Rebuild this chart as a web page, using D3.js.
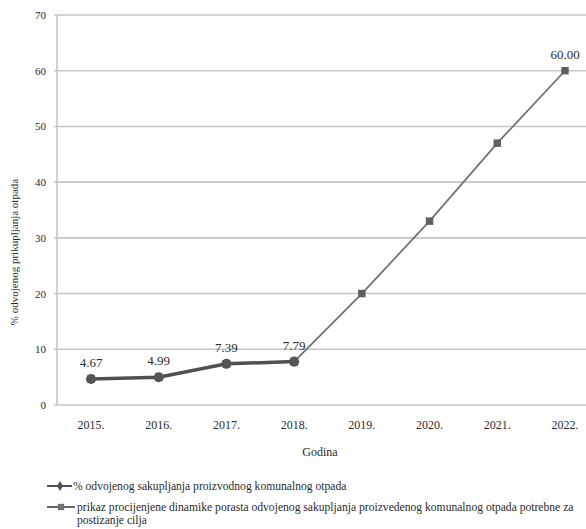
<!DOCTYPE html>
<html><head><meta charset="utf-8">
<script src="https://cdn.jsdelivr.net/npm/d3@7"></script>
<style>body{margin:0;background:#fff}svg{display:block}</style>
</head><body>
<svg id="c" width="586" height="529"></svg>
<script>
const years = ["2015.","2016.","2017.","2018.","2019.","2020.","2021.","2022."];
const actualYears = ["2015.","2016.","2017.","2018."];
const actualValues = [4.67, 4.99, 7.39, 7.79];
const targetValues = [4.67, 4.99, 7.39, 7.79, 20, 33, 47, 60];
const yTicks = [0,10,20,30,40,50,60,70];
const labelYears = ["2015.","2016.","2017.","2018.","2022."];
const labelValues = [4.67, 4.99, 7.39, 7.79, 60];
const legendTexts = ["% odvojenog sakupljanja proizvodnog komunalnog otpada",
  "prikaz procijenjene dinamike porasta odvojenog sakupljanja proizvedenog komunalnog otpada potrebne za",
  "postizanje cilja"];

const svg = d3.select("#c");
const serif = "'Liberation Serif','Times New Roman',serif";
const ink = "#2a2a2a";
const x = d3.scalePoint().domain(years).range([91, 565]);
const y = d3.scaleLinear().domain([0,70]).range([405,15]);

// gridlines
svg.append("g").selectAll("line").data(yTicks).join("line")
  .attr("x1",54).attr("x2",586).attr("y1",d=>y(d)).attr("y2",d=>y(d))
  .attr("stroke","#c6c6c6").attr("stroke-width",1.6);
// y axis line
svg.append("line").attr("x1",57).attr("x2",57).attr("y1",y(70)).attr("y2",y(0))
  .attr("stroke","#c6c6c6").attr("stroke-width",1.6);

// y tick labels
svg.append("g").selectAll("text").data(yTicks).join("text")
  .attr("x",46).attr("y",d=>y(d)+4).attr("text-anchor","end")
  .attr("font-family",serif).attr("font-size",11).attr("fill",ink).text(d=>d);
// x tick labels
svg.append("g").selectAll("text").data(years).join("text")
  .attr("x",d=>x(d)).attr("y",429).attr("text-anchor","middle")
  .attr("font-family",serif).attr("font-size",12).attr("fill",ink).text(d=>d);

// axis titles
svg.append("text").attr("x",320).attr("y",456).attr("text-anchor","middle")
  .attr("font-family",serif).attr("font-size",12).attr("fill",ink).text("Godina");
svg.append("text").attr("transform","translate(18,252) rotate(-90)").attr("text-anchor","middle")
  .attr("font-family",serif).attr("font-size",11).attr("fill",ink).text("% odvojenog prikupljanja otpada");

const line = d3.line().x(d=>x(d[0])).y(d=>y(d[1]));
// target series
const tData = years.map((yr,i)=>[yr,targetValues[i]]);
svg.append("path").datum(tData).attr("d",line).attr("fill","none")
  .attr("stroke","#6e6e6e").attr("stroke-width",1.7);
// actual series
const aData = actualYears.map((yr,i)=>[yr,actualValues[i]]);
svg.append("path").datum(aData).attr("d",line).attr("fill","none")
  .attr("stroke","#505050").attr("stroke-width",3.5);

const sq = d3.symbol().type(d3.symbolSquare).size(56);
svg.append("g").selectAll("path").data(tData).join("path")
  .attr("d",sq).attr("transform",d=>`translate(${x(d[0])},${y(d[1])})`).attr("fill","#606060");
svg.append("g").selectAll("path").data(aData).join("path")
  .attr("d",d3.symbol().type(d3.symbolCircle).size(80)).attr("transform",d=>`translate(${x(d[0])},${y(d[1])})`).attr("fill","#555");

// data labels
svg.append("g").selectAll("text").data(labelYears).join("text")
  .attr("x",d=>x(d)).attr("y",(d,i)=>y(labelValues[i])-12).attr("text-anchor","middle")
  .attr("font-family",serif).attr("font-size",13).attr("fill",ink)
  .text((d,i)=>labelValues[i].toFixed(2));

// legend
const lfs = 11.6;
const lg = svg.append("g");
lg.append("line").attr("x1",47).attr("x2",72).attr("y1",486).attr("y2",486).attr("stroke","#505050").attr("stroke-width",2);
lg.append("path").attr("d",d3.symbol().type(d3.symbolDiamond).size(30)).attr("transform","translate(60,486)").attr("fill","#505050");
lg.append("text").attr("x",73).attr("y",490).attr("font-family",serif).attr("font-size",lfs).attr("fill",ink).text(legendTexts[0]);
lg.append("line").attr("x1",47).attr("x2",75).attr("y1",507).attr("y2",507).attr("stroke","#666").attr("stroke-width",2);
lg.append("path").attr("d",d3.symbol().type(d3.symbolSquare).size(40)).attr("transform","translate(61,507)").attr("fill","#707070");
lg.append("text").attr("x",77).attr("y",510.5).attr("font-family",serif).attr("font-size",lfs).attr("fill",ink).text(legendTexts[1]);
lg.append("text").attr("x",77).attr("y",523.5).attr("font-family",serif).attr("font-size",lfs).attr("fill",ink).text(legendTexts[2]);
</script>
</body></html>
